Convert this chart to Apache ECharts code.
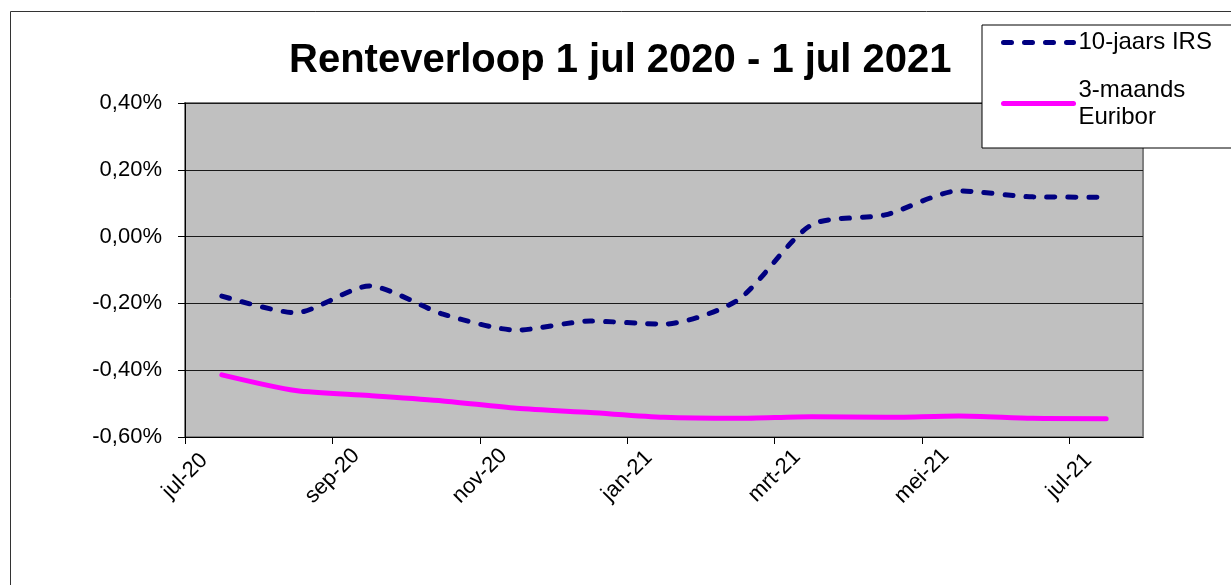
<!DOCTYPE html>
<html>
<head>
<meta charset="utf-8">
<script src="https://cdn.jsdelivr.net/npm/echarts@6/dist/echarts.min.js"></script>
<style>
html, body { margin: 0; padding: 0; background: #fff; }
#chart { width: 1231px; height: 585px; }
</style>
</head>
<body>
<div id="chart"></div>
<script>
// maanden (categorieën) en rentestanden in %
var months = ['jul-20', 'aug-20', 'sep-20', 'okt-20', 'nov-20', 'dec-20', 'jan-21', 'feb-21', 'mrt-21', 'apr-21', 'mei-21', 'jun-21', 'jul-21'];
var irs10 = [-0.178, -0.228, -0.148, -0.232, -0.280, -0.253, -0.262, -0.190, 0.035, 0.065, 0.137, 0.119, 0.118];
var euribor3 = [-0.414, -0.461, -0.476, -0.492, -0.514, -0.527, -0.541, -0.544, -0.539, -0.541, -0.537, -0.544, -0.545];
var labelIdx = [0, 2, 4, 6, 8, 10, 12];   // maandgrenzen met label
var seriesNames = ['10-jaars IRS', '3-maands Euribor'];

var FONT = '"Liberation Sans", Arial, sans-serif';

function toPoints(arr) {
	// punt midden in de maand
	return arr.map(function (v, i) { return [i + 0.5, v]; });
}

function pct(v) {
	if (Math.abs(v) < 1e-9) v = 0;
	return v.toFixed(2).replace('.', ',') + '%';
}

var chart = echarts.init(document.getElementById('chart'));

var option = {
	animation: false,
	backgroundColor: '#fff',
	title: {
		text: 'Renteverloop 1 jul 2020 - 1 jul 2021',
		left: 289,
		top: 41,
		padding: 0,
		textStyle: { fontFamily: FONT, fontSize: 40, fontWeight: 'bold', color: '#000' }
	},
	graphic: [{
		type: 'rect',
		z: -1,
		shape: { x: 10.5, y: 11.5, width: 1300, height: 700 },
		style: { fill: 'none', stroke: '#333', lineWidth: 1 }
	}],
	legend: {
		orient: 'vertical',
		left: 982,
		top: 25,
		padding: [4, 40, 4, 19],
		itemGap: 7,
		itemWidth: 70,
		itemHeight: 14,
		backgroundColor: '#fff',
		borderColor: '#000',
		borderWidth: 1,
		borderRadius: 0,
		itemStyle: { color: 'transparent', borderColor: 'transparent', borderWidth: 0 },
		lineStyle: { width: 5 },
		textStyle: { fontFamily: FONT, fontSize: 24, lineHeight: 27, color: '#000' },
		formatter: function (name) { return name.replace(' Euribor', '\nEuribor'); },
		data: [
			{ name: seriesNames[0] },
			{ name: seriesNames[1], textStyle: { padding: [27, 0, 0, 0] } }
		]
	},
	grid: {
		left: 185,
		top: 103,
		right: 88,
		bottom: 148,
		show: true,
		backgroundColor: '#c0c0c0',
		borderColor: '#808080',
		borderWidth: 2
	},
	xAxis: {
		type: 'value',
		min: 0,
		max: 13,
		interval: 1,
		axisLine: { show: true, onZero: false, lineStyle: { color: '#000', width: 1 } },
		axisTick: { show: true, length: 7, customValues: labelIdx, lineStyle: { color: '#000' } },
		splitLine: { show: false },
		axisLabel: {
			customValues: labelIdx,
			rotate: 45,
			align: 'center',
			verticalAlign: 'middle',
			margin: 39,
			fontFamily: FONT,
			fontSize: 22,
			color: '#000',
			formatter: function (v) { return months[Math.round(v)]; }
		}
	},
	yAxis: {
		type: 'value',
		min: -0.6,
		max: 0.4,
		interval: 0.2,
		axisLine: { show: true, lineStyle: { color: '#000', width: 1 } },
		axisTick: { show: true, length: 7, lineStyle: { color: '#000' } },
		splitLine: { show: true, lineStyle: { color: '#1a1a1a', width: 1 } },
		axisLabel: {
			margin: 23,
			fontFamily: FONT,
			fontSize: 22,
			color: '#000',
			formatter: pct
		}
	},
	series: [{
		name: seriesNames[0],
		type: 'line',
		data: toPoints(irs10),
		symbol: 'none',
		smooth: 0.25,
		color: '#000080',
		lineStyle: { color: '#000080', width: 5, type: [8, 13], cap: 'round', join: 'round' }
	}, {
		name: seriesNames[1],
		type: 'line',
		data: toPoints(euribor3),
		symbol: 'none',
		smooth: 0.25,
		color: '#ff00ff',
		lineStyle: { color: '#ff00ff', width: 5, cap: 'round', join: 'round' }
	}]
};

chart.setOption(option);
</script>
</body>
</html>
